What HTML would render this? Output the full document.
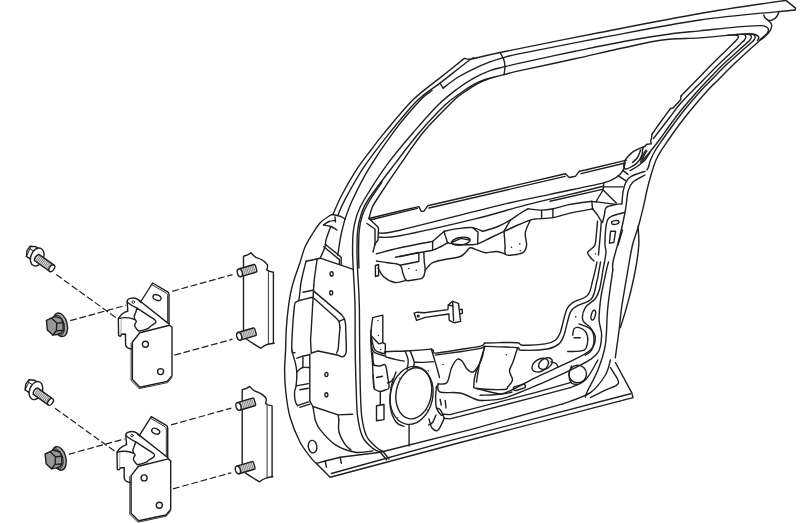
<!DOCTYPE html>
<html><head><meta charset="utf-8"><title>Door hinge diagram</title>
<style>
html,body{margin:0;padding:0;background:#fff;}
body{width:800px;height:523px;overflow:hidden;font-family:"Liberation Sans",sans-serif;}
svg{display:block;}
</style></head><body>
<svg width="800" height="523" viewBox="0 0 800 523">
<rect width="800" height="523" fill="#fff"/>
<g fill="none" stroke="#1f1f1f" stroke-width="1.4" stroke-linecap="round" stroke-linejoin="round">
<g transform="translate(0.0,0.0)">
<path d="M26.4,256.3 L27,250.6 L30.2,246.2 L35.6,246.6 L38.6,248.6 L34.4,251.2 L30.2,258.9 Z" fill="#fff"/>
<path d="M30.2,246.2 L30,248.9 L34.4,251.2 M30,248.9 L26.4,256.3" stroke-width="1"/>
<ellipse cx="37.2" cy="257" rx="6.3" ry="9.4" transform="rotate(22 37.2 257)" fill="#fff"/>
<g transform="translate(36.6,257.4) rotate(35.5)">
      <path d="M0,-3.8 L18.6,-3.8 L18.6,3.8 L0,3.8 Q-2.4,0 0,-3.8Z" fill="#e4e4e4" stroke="none"/>
      <path d="M1.4,-3.8V3.8 M3.1,-3.8V3.8 M4.8,-3.8V3.8 M6.5,-3.8V3.8 M8.2,-3.8V3.8 M9.9,-3.8V3.8 M11.6,-3.8V3.8 M13.3,-3.8V3.8 M15,-3.8V3.8 M16.5,-3.8V3.8" stroke="#6d6d6d" stroke-width="0.8"/>
      <path d="M18.6,-3.8 L0,-3.8 Q-2.4,0 0,3.8 L18.6,3.8"/>
      <ellipse cx="18.7" cy="0" rx="2.3" ry="3.8" fill="#fff"/>
    </g>
<ellipse cx="60.3" cy="324.8" rx="6.9" ry="12" transform="rotate(-14 60.3 324.8)" fill="#a9a9a9"/>
<ellipse cx="58.6" cy="325.2" rx="5.6" ry="10.2" transform="rotate(-14 58.6 325.2)" fill="#9c9c9c" stroke-width="0.9"/>
<path d="M46.4,320.4 L51.4,318.1 L54.4,316.4 L61.1,318.4 L63.1,322.7 L63.1,330.4 L61.1,333.1 L57.1,334.5 L52.7,335.1 L47.4,330.1 Z" fill="#979797"/>
<path d="M51.4,318.1 L56.8,323.1 L56.4,330.8 L52.7,335.1 M56.8,323.1 L63.1,322.7 M56.4,330.8 L63.1,330.4"/>
<path d="M56.3,274.6 L117.3,318.6" stroke-dasharray="6.8 2.7" stroke-width="1.2" stroke-linecap="butt"/>
<path d="M70.2,320.7 L125.8,305.3 M141.5,300.9 L152.6,297.9" stroke-dasharray="6.8 2.7" stroke-width="1.2" stroke-linecap="butt"/>
<path d="M172.3,291.3 L232.5,274.6" stroke-dasharray="6.8 2.7" stroke-width="1.2" stroke-linecap="butt"/>
<path d="M174.3,355.2 L232.5,339.2" stroke-dasharray="6.8 2.7" stroke-width="1.2" stroke-linecap="butt"/>
<path d="M141.2,301 L152.6,283 L167.6,291.8 Q169,292.6 169,294.5 L169,323.6" fill="#fff"/>
<path d="M151.6,284.5 L166.6,293.3 Q167.6,294 167.6,295.3 L167.6,322.4" stroke-width="0.9"/>
<ellipse cx="157" cy="297.6" rx="4.2" ry="2.6" transform="rotate(24 157 297.6)" fill="#fff"/>
<path d="M138.3,299.8 L168.9,323.9"/>
<path d="M127.2,302.2 C126.8,300 128,298.9 130.2,298.4 C133.2,297.6 136.6,298.2 138.6,300 L141,302.5" fill="none"/>
<path d="M127.2,302.2 C129.5,304 133,306.4 137,308.2"/>
<circle cx="133.3" cy="302" r="1.3" stroke-width="0.9"/>
<path d="M137,308.2 L154.7,319.7 C156.2,321.2 156,322.6 155.3,323.1 C153.6,324.6 151.8,325.6 150.1,326.5 C149.4,327.2 148.9,327.8 148.4,328.3 C145.4,329.6 142,330.6 138.7,331.1 C136.8,329.6 135.4,327.8 134.7,326 C134.6,324.2 135.4,322.8 136.4,321.4 C135.2,320 134.2,318.6 134.1,316.8 C134.4,315 135.2,313.6 135.8,312.2 C136,310.8 136.5,309.5 137,308.2 Z"/>
<path d="M127.2,302.2 L127.8,311 C126.6,311.6 125.8,311.9 124.9,312.2 C122.4,313.4 120,315.6 118.3,318.5 L118.6,335.7 L120.3,336.3 L122,334 L125.5,334.2"/>
<path d="M118.6,318.7 C122.5,317.2 129.5,317 134.5,319.6"/>
<path d="M121.2,319.4 L120.9,334.6" stroke="#888" stroke-width="0.7"/>
<path d="M125.5,334.2 L125.5,344.3 C125.9,347 128.6,348.8 132.2,348.9"/>
<path d="M139.8,332.7 L169.6,325.3 L172,327.3 L172,375.8 L167.2,381.4 L139.9,387.2 L132.4,379.6 L132.4,342 Z" fill="#fff"/>
<path d="M169,323.6 L169.6,325.3 M131.1,343 L131.1,380.6 L139.2,388.6 L167.6,382.6 L172,377.3" stroke-width="0.9"/>
<circle cx="145.4" cy="344.3" r="3"/>
<circle cx="160.6" cy="371.6" r="3"/>
<path d="M243.5,337 L243.5,256.2 C246,255.6 249,254.4 251,252.8 C252.5,254.6 254,256.2 256,257.4 C260,258.8 265.6,261.6 267.4,264.8 C267.8,266.8 267.4,268.4 266.7,269.9 C268.8,271.2 271,271.9 273.4,272.3 L273.4,343.2"/>
<path d="M268.4,270.6 L268.4,343.8" stroke-width="0.9"/>
<path d="M243.5,337 C249,341 255,345 260.9,348.2 C263,346.4 265,345.2 267.2,344.5 C269.6,343.8 272,343.4 274.1,343.2"/>
<g transform="translate(239.8,272.8) rotate(-16.5)">
          <rect x="0" y="-4" width="16.5" height="8" rx="1" fill="#e6e6e6" stroke="none"/>
          <path d="M3,-4V4 M4.7,-4V4 M6.4,-4V4 M8.1,-4V4 M9.8,-4V4 M11.5,-4V4 M13.2,-4V4 M14.9,-4V4" stroke="#777" stroke-width="0.8"/>
          <path d="M0,-4 L15.8,-4 Q17,-4 17,-2.5 L17,2.5 Q17,4 15.8,4 L0,4"/>
          <ellipse cx="0" cy="0" rx="2.4" ry="4" fill="#fff"/>
        </g>
<g transform="translate(239.2,336.3) rotate(-16.5)">
          <rect x="0" y="-4" width="16.5" height="8" rx="1" fill="#e6e6e6" stroke="none"/>
          <path d="M3,-4V4 M4.7,-4V4 M6.4,-4V4 M8.1,-4V4 M9.8,-4V4 M11.5,-4V4 M13.2,-4V4 M14.9,-4V4" stroke="#777" stroke-width="0.8"/>
          <path d="M0,-4 L15.8,-4 Q17,-4 17,-2.5 L17,2.5 Q17,4 15.8,4 L0,4"/>
          <ellipse cx="0" cy="0" rx="2.4" ry="4" fill="#fff"/>
        </g>
</g>
<g transform="translate(-1.3,133.6)">
<path d="M26.4,256.3 L27,250.6 L30.2,246.2 L35.6,246.6 L38.6,248.6 L34.4,251.2 L30.2,258.9 Z" fill="#fff"/>
<path d="M30.2,246.2 L30,248.9 L34.4,251.2 M30,248.9 L26.4,256.3" stroke-width="1"/>
<ellipse cx="37.2" cy="257" rx="6.3" ry="9.4" transform="rotate(22 37.2 257)" fill="#fff"/>
<g transform="translate(36.6,257.4) rotate(35.5)">
      <path d="M0,-3.8 L18.6,-3.8 L18.6,3.8 L0,3.8 Q-2.4,0 0,-3.8Z" fill="#e4e4e4" stroke="none"/>
      <path d="M1.4,-3.8V3.8 M3.1,-3.8V3.8 M4.8,-3.8V3.8 M6.5,-3.8V3.8 M8.2,-3.8V3.8 M9.9,-3.8V3.8 M11.6,-3.8V3.8 M13.3,-3.8V3.8 M15,-3.8V3.8 M16.5,-3.8V3.8" stroke="#6d6d6d" stroke-width="0.8"/>
      <path d="M18.6,-3.8 L0,-3.8 Q-2.4,0 0,3.8 L18.6,3.8"/>
      <ellipse cx="18.7" cy="0" rx="2.3" ry="3.8" fill="#fff"/>
    </g>
<ellipse cx="60.3" cy="324.8" rx="6.9" ry="12" transform="rotate(-14 60.3 324.8)" fill="#a9a9a9"/>
<ellipse cx="58.6" cy="325.2" rx="5.6" ry="10.2" transform="rotate(-14 58.6 325.2)" fill="#9c9c9c" stroke-width="0.9"/>
<path d="M46.4,320.4 L51.4,318.1 L54.4,316.4 L61.1,318.4 L63.1,322.7 L63.1,330.4 L61.1,333.1 L57.1,334.5 L52.7,335.1 L47.4,330.1 Z" fill="#979797"/>
<path d="M51.4,318.1 L56.8,323.1 L56.4,330.8 L52.7,335.1 M56.8,323.1 L63.1,322.7 M56.4,330.8 L63.1,330.4"/>
<path d="M56.3,274.6 L117.3,318.6" stroke-dasharray="6.8 2.7" stroke-width="1.2" stroke-linecap="butt"/>
<path d="M70.2,320.7 L125.8,305.3 M141.5,300.9 L152.6,297.9" stroke-dasharray="6.8 2.7" stroke-width="1.2" stroke-linecap="butt"/>
<path d="M172.3,291.3 L232.5,274.6" stroke-dasharray="6.8 2.7" stroke-width="1.2" stroke-linecap="butt"/>
<path d="M174.3,355.2 L232.5,339.2" stroke-dasharray="6.8 2.7" stroke-width="1.2" stroke-linecap="butt"/>
<path d="M141.2,301 L152.6,283 L167.6,291.8 Q169,292.6 169,294.5 L169,323.6" fill="#fff"/>
<path d="M151.6,284.5 L166.6,293.3 Q167.6,294 167.6,295.3 L167.6,322.4" stroke-width="0.9"/>
<ellipse cx="157" cy="297.6" rx="4.2" ry="2.6" transform="rotate(24 157 297.6)" fill="#fff"/>
<path d="M138.3,299.8 L168.9,323.9"/>
<path d="M127.2,302.2 C126.8,300 128,298.9 130.2,298.4 C133.2,297.6 136.6,298.2 138.6,300 L141,302.5" fill="none"/>
<path d="M127.2,302.2 C129.5,304 133,306.4 137,308.2"/>
<circle cx="133.3" cy="302" r="1.3" stroke-width="0.9"/>
<path d="M137,308.2 L154.7,319.7 C156.2,321.2 156,322.6 155.3,323.1 C153.6,324.6 151.8,325.6 150.1,326.5 C149.4,327.2 148.9,327.8 148.4,328.3 C145.4,329.6 142,330.6 138.7,331.1 C136.8,329.6 135.4,327.8 134.7,326 C134.6,324.2 135.4,322.8 136.4,321.4 C135.2,320 134.2,318.6 134.1,316.8 C134.4,315 135.2,313.6 135.8,312.2 C136,310.8 136.5,309.5 137,308.2 Z"/>
<path d="M127.2,302.2 L127.8,311 C126.6,311.6 125.8,311.9 124.9,312.2 C122.4,313.4 120,315.6 118.3,318.5 L118.6,335.7 L120.3,336.3 L122,334 L125.5,334.2"/>
<path d="M118.6,318.7 C122.5,317.2 129.5,317 134.5,319.6"/>
<path d="M121.2,319.4 L120.9,334.6" stroke="#888" stroke-width="0.7"/>
<path d="M125.5,334.2 L125.5,344.3 C125.9,347 128.6,348.8 132.2,348.9"/>
<path d="M139.8,332.7 L169.6,325.3 L172,327.3 L172,375.8 L167.2,381.4 L139.9,387.2 L132.4,379.6 L132.4,342 Z" fill="#fff"/>
<path d="M169,323.6 L169.6,325.3 M131.1,343 L131.1,380.6 L139.2,388.6 L167.6,382.6 L172,377.3" stroke-width="0.9"/>
<circle cx="145.4" cy="344.3" r="3"/>
<circle cx="160.6" cy="371.6" r="3"/>
<path d="M243.5,337 L243.5,256.2 C246,255.6 249,254.4 251,252.8 C252.5,254.6 254,256.2 256,257.4 C260,258.8 265.6,261.6 267.4,264.8 C267.8,266.8 267.4,268.4 266.7,269.9 C268.8,271.2 271,271.9 273.4,272.3 L273.4,343.2"/>
<path d="M268.4,270.6 L268.4,343.8" stroke-width="0.9"/>
<path d="M243.5,337 C249,341 255,345 260.9,348.2 C263,346.4 265,345.2 267.2,344.5 C269.6,343.8 272,343.4 274.1,343.2"/>
<g transform="translate(239.8,272.8) rotate(-16.5)">
          <rect x="0" y="-4" width="16.5" height="8" rx="1" fill="#e6e6e6" stroke="none"/>
          <path d="M3,-4V4 M4.7,-4V4 M6.4,-4V4 M8.1,-4V4 M9.8,-4V4 M11.5,-4V4 M13.2,-4V4 M14.9,-4V4" stroke="#777" stroke-width="0.8"/>
          <path d="M0,-4 L15.8,-4 Q17,-4 17,-2.5 L17,2.5 Q17,4 15.8,4 L0,4"/>
          <ellipse cx="0" cy="0" rx="2.4" ry="4" fill="#fff"/>
        </g>
<g transform="translate(239.2,336.3) rotate(-16.5)">
          <rect x="0" y="-4" width="16.5" height="8" rx="1" fill="#e6e6e6" stroke="none"/>
          <path d="M3,-4V4 M4.7,-4V4 M6.4,-4V4 M8.1,-4V4 M9.8,-4V4 M11.5,-4V4 M13.2,-4V4 M14.9,-4V4" stroke="#777" stroke-width="0.8"/>
          <path d="M0,-4 L15.8,-4 Q17,-4 17,-2.5 L17,2.5 Q17,4 15.8,4 L0,4"/>
          <ellipse cx="0" cy="0" rx="2.4" ry="4" fill="#fff"/>
        </g>
</g>
<path d="M333.0,214.5 C334.5,211.2 337.7,202.8 341.8,195.0 C345.9,187.2 352.9,175.2 357.8,167.7 C362.7,160.2 366.6,155.8 371.0,150.0 C375.4,144.2 377.5,140.9 384.5,132.6 C391.5,124.3 403.6,109.1 412.8,100.0 C422.1,90.9 431.4,84.8 440.0,77.9 C448.6,71.0 460.3,61.6 464.4,58.4"/>
<path d="M464.4,58.4 C465.2,58.5 467.4,59.2 469.0,59.2 C470.6,59.2 468.6,59.7 473.8,58.6 C479.0,57.5 479.0,56.9 500.0,52.5 C521.0,48.1 566.7,39.0 600.0,32.5 C633.3,26.0 669.3,18.8 700.0,13.5 C730.7,8.2 770.0,2.8 784.0,0.6"/>
<path d="M338.0,215.0 C339.1,212.6 340.4,208.2 344.6,200.3 C348.9,192.4 356.0,179.0 363.5,167.7 C371.0,156.4 380.8,143.9 389.8,132.6 C398.9,121.3 409.4,108.2 417.8,100.0 C426.2,91.8 431.3,89.8 440.0,83.1 C448.7,76.4 464.4,63.9 470.0,59.8 C475.6,55.7 473.2,58.8 473.8,58.6"/>
<path d="M345.0,219.0 C346.2,215.9 348.4,208.7 352.3,200.3 C356.2,192.0 361.8,180.4 368.7,168.9 C375.6,157.4 385.4,142.8 394.0,131.3 C402.6,119.8 414.1,106.8 420.4,100.0 C426.7,93.2 430.1,92.1 432.0,90.5"/>
<path d="M440.0,83.1 L443.1,88.1"/>
<path d="M443.1,88.1 C445.5,86.3 452.4,80.7 457.5,77.5 C462.6,74.3 468.4,71.4 473.8,68.8 C479.2,66.2 485.2,63.7 490.0,61.9 C494.8,60.1 497.5,59.3 502.5,57.9 C507.5,56.5 503.8,56.9 520.0,53.6 C536.2,50.3 570.0,43.6 600.0,38.0 C630.0,32.4 667.5,24.7 700.0,20.0 C732.5,15.3 779.2,11.7 795.0,10.0"/>
<path d="M380.3,452.2 C379.1,451.6 375.7,450.9 372.8,448.4 C369.9,445.9 365.2,442.3 362.7,437.1 C360.2,431.9 358.8,424.6 357.7,417.1 C356.6,409.6 356.7,403.2 356.3,392.0 C355.9,380.8 355.4,364.5 355.2,350.0 C355.0,335.5 355.3,318.3 355.0,305.0 C354.7,291.7 353.7,278.8 353.3,270.0 C352.9,261.2 352.6,258.3 352.6,252.0 C352.6,245.7 352.5,238.1 353.2,232.0 C353.9,225.9 355.0,220.8 356.8,215.5 C358.6,210.2 358.7,208.8 364.0,200.0 C369.3,191.2 379.9,174.3 388.5,162.7 C397.1,151.0 407.0,139.7 415.3,130.1 C423.6,120.5 431.1,111.9 438.1,105.0 C445.1,98.1 451.6,93.3 457.5,88.8 C463.4,84.3 468.4,81.1 473.8,78.1 C479.2,75.1 485.0,72.5 490.0,70.6 C495.0,68.7 498.8,68.2 503.8,66.9 C508.8,65.7 508.1,65.7 520.0,63.1 C531.9,60.5 557.5,54.9 575.0,51.3 C592.5,47.7 608.3,44.3 625.0,41.3 C641.7,38.3 662.5,35.0 675.0,33.3 C687.5,31.6 689.6,32.0 700.0,30.9 C710.4,29.8 727.5,27.8 737.5,26.9 C747.5,26.0 755.4,25.7 760.0,25.6 C764.6,25.5 763.6,25.8 765.0,26.3 C766.4,26.8 767.6,27.6 768.1,28.5 C768.6,29.4 768.6,30.3 768.1,31.5 C767.6,32.7 766.4,34.3 765.0,35.6 C763.6,36.9 760.8,38.8 760.0,39.4"/>
<path d="M383.0,451.5 C381.8,450.8 378.8,449.6 376.0,447.0 C373.2,444.4 368.9,441.0 366.5,436.0 C364.1,431.0 362.8,424.4 361.8,417.1 C360.8,409.8 360.8,403.2 360.4,392.0 C360.0,380.8 359.9,364.5 359.7,350.0 C359.5,335.5 359.6,318.3 359.3,305.0 C359.0,291.7 358.0,279.1 357.6,270.3 C357.2,261.5 357.0,258.6 357.0,252.0 C357.0,245.4 356.9,237.2 357.6,231.0 C358.3,224.8 359.3,220.2 361.0,215.0 C362.7,209.8 362.4,208.5 368.0,200.0 C373.6,191.5 386.1,175.3 394.8,163.9 C403.5,152.5 412.0,141.1 420.4,131.3 C428.8,121.5 438.2,111.5 445.0,105.0 C451.8,98.5 456.5,95.9 461.3,92.5 C466.1,89.1 469.9,86.6 473.8,84.4 C477.8,82.2 481.5,80.7 485.0,79.4 C488.5,78.2 491.7,77.7 495.0,76.9 C498.3,76.1 500.8,75.5 505.0,74.4 C509.2,73.4 508.3,73.2 520.0,70.6 C531.7,68.0 557.5,62.6 575.0,58.8 C592.5,54.9 610.4,50.6 625.0,47.5 C639.6,44.4 650.0,41.6 662.5,40.0 C675.0,38.4 687.5,38.8 700.0,37.9 C712.5,37.0 728.8,35.0 737.5,34.4 C746.2,33.8 749.2,33.8 752.5,34.0 C755.8,34.2 756.5,35.0 757.5,35.6 C758.5,36.2 758.8,37.0 758.8,37.8 C758.8,38.6 757.7,40.1 757.5,40.6"/>
<path d="M369.0,218.5 C369.1,218.1 369.1,217.8 369.6,216.0 C370.1,214.2 370.9,210.7 372.0,208.0 C373.1,205.3 371.9,207.1 376.5,200.0 C381.1,192.9 391.9,176.6 399.8,165.2 C407.7,153.8 415.0,142.2 424.1,131.3 C433.2,120.4 447.6,106.5 454.2,100.0 C460.8,93.5 460.1,95.1 463.8,92.5 C467.5,89.9 472.6,86.5 476.3,84.4 C480.1,82.3 483.4,81.0 486.3,79.8 C489.2,78.6 492.7,77.6 494.0,77.2"/>
<path d="M382.0,182.0 C380.0,185.0 373.2,194.5 370.0,200.0 C366.8,205.5 364.3,209.8 362.5,215.0 C360.7,220.2 359.8,224.8 359.2,231.0 C358.6,237.2 358.6,245.8 358.6,252.0 C358.6,258.2 358.9,265.3 359.0,268.0"/>
<path d="M500.0,52.5 C500.6,53.6 502.8,56.7 503.6,59.0 C504.4,61.3 504.9,63.7 505.0,66.3 C505.1,68.9 504.2,73.4 504.0,74.8"/>
<path d="M784.0,0.6 L786.2,0.6 L795.6,8.1 L795.0,10.0"/>
<path d="M763.8,15.0 C764.0,15.5 764.2,16.9 765.0,17.8 C765.8,18.7 767.9,20.1 768.5,20.6"/>
<path d="M778.8,12.6 C778.4,13.3 777.5,15.8 776.5,17.0 C775.5,18.2 773.8,19.2 772.5,19.8 C771.2,20.4 769.2,20.5 768.5,20.6"/>
<path d="M768.5,20.6 C769.0,21.1 770.8,22.6 771.3,23.8 C771.8,25.1 771.7,26.7 771.3,28.1 C770.9,29.6 770.3,30.7 768.8,32.5 C767.3,34.3 764.1,37.4 762.5,38.8 C760.9,40.2 761.4,39.1 759.2,41.0 C757.0,42.9 753.6,46.0 749.2,50.0 C744.8,54.0 738.2,60.0 733.0,65.0 C727.8,70.0 722.2,75.8 718.0,80.0 C713.8,84.2 712.3,85.2 708.0,90.0 C703.7,94.8 696.8,102.7 692.0,108.5 C687.2,114.3 682.8,119.9 679.0,125.0 C675.2,130.1 671.9,134.8 669.0,139.0 C666.1,143.2 663.7,146.5 661.5,150.0 C659.3,153.5 657.8,155.8 656.0,160.0 C654.2,164.2 652.5,170.0 651.0,175.0 C649.5,180.0 648.2,185.0 647.0,190.0 C645.8,195.0 645.3,198.8 643.8,205.0 C642.3,211.2 640.0,220.8 638.1,227.5 C636.2,234.2 634.2,237.9 632.5,245.0 C630.8,252.1 629.7,259.6 627.9,270.0 C626.1,280.4 623.1,297.6 621.6,307.6 C620.1,317.6 620.2,321.9 619.1,330.2 C618.0,338.5 615.9,353.1 615.3,357.7"/>
<path d="M638.1,226.3 C638.2,229.4 639.2,237.7 638.8,245.0 C638.3,252.3 637.2,260.4 635.4,270.0 C633.6,279.6 630.4,293.0 627.9,302.6 C625.4,312.2 621.6,323.4 620.4,327.6"/>
<path d="M747.0,34.2 C747.9,34.2 751.2,33.9 752.5,34.2 C753.8,34.5 754.8,35.0 755.0,36.0 C755.2,37.0 756.0,37.7 754.0,40.0 C752.0,42.3 747.5,45.8 742.8,50.0 C738.1,54.2 731.2,60.0 726.0,65.0 C720.8,70.0 715.4,75.8 711.3,80.0 C707.2,84.2 705.7,85.3 701.5,90.0 C697.3,94.7 690.8,102.2 686.0,108.0 C681.2,113.8 676.8,119.8 673.0,125.0 C669.2,130.2 665.9,134.8 663.0,139.0 C660.1,143.2 657.6,146.5 655.5,150.0 C653.4,153.5 651.7,157.2 650.5,160.0 C649.3,162.8 649.1,165.3 648.5,167.0 C647.9,168.7 647.2,169.5 647.0,170.0"/>
<path d="M741.0,34.4 C742.2,34.4 746.8,33.9 748.5,34.2 C750.2,34.5 751.0,35.0 751.2,36.0 C751.5,37.0 752.0,37.7 750.0,40.0 C748.0,42.3 743.6,45.8 739.0,50.0 C734.4,54.2 727.7,60.0 722.5,65.0 C717.3,70.0 712.0,75.8 708.0,80.0 C704.0,84.2 702.8,85.3 698.6,90.0 C694.4,94.7 687.8,102.2 683.0,108.0 C678.2,113.8 673.8,119.8 670.0,125.0 C666.2,130.2 663.1,134.8 660.0,139.0 C656.9,143.2 654.2,146.7 651.5,150.0 C648.8,153.3 645.8,157.0 644.0,159.0 C642.2,161.0 641.1,161.5 640.5,162.0"/>
<path d="M735.0,34.6 C736.3,34.6 741.2,34.2 743.0,34.4 C744.8,34.6 745.4,35.1 745.6,36.0 C745.9,36.9 746.5,37.7 744.5,40.0 C742.5,42.3 738.3,45.8 733.9,50.0 C729.5,54.2 723.1,60.0 718.0,65.0 C712.9,70.0 707.4,75.8 703.3,80.0 C699.2,84.2 697.2,86.0 693.3,90.0 C689.4,94.0 683.9,99.5 680.0,104.0 C676.1,108.5 673.3,112.7 670.0,117.0 C666.7,121.3 662.8,126.4 660.0,130.0 C657.2,133.6 654.6,137.1 653.5,138.5"/>
<path d="M646.0,150.0 C645.7,150.5 644.7,151.8 644.0,153.0 C643.3,154.2 642.6,155.8 642.0,157.0 C641.4,158.2 640.8,159.5 640.5,160.0"/>
<path d="M728.0,35.2 C729.2,35.2 733.8,34.8 735.5,35.0 C737.2,35.2 738.3,35.7 738.5,36.5 C738.7,37.3 738.5,37.8 736.5,40.0 C734.5,42.2 730.7,45.8 726.5,50.0 C722.3,54.2 716.2,60.0 711.2,65.0 C706.2,70.0 700.7,75.8 696.6,80.0 C692.5,84.2 689.4,87.3 686.8,90.0 C684.2,92.7 682.0,95.0 681.0,96.0"/>
<path d="M681.0,96.0 L680.5,100.0 L673.0,108.0 L670.5,108.5"/>
<path d="M670.5,108.5 C669.1,110.4 665.1,115.8 662.0,120.0 C658.9,124.2 653.7,131.7 652.0,134.0"/>
<path d="M652.0,134.0 L651.5,138.5 L650.6,140.6 L651.3,143.8 L646.3,144.4 L645.0,146.3"/>
<path d="M645.0,146.3 C644.0,146.7 641.1,147.7 638.8,148.8 C636.5,149.9 633.5,151.3 631.3,153.1 C629.1,154.9 626.5,158.3 625.6,159.4"/>
<path d="M625.6,159.4 C625.3,160.3 623.9,163.4 623.8,165.0 C623.7,166.6 624.0,168.4 625.0,168.8 C626.0,169.2 627.9,168.6 630.0,167.5 C632.1,166.4 635.5,164.6 637.5,162.5 C639.5,160.4 641.1,157.1 641.9,155.0 C642.7,152.9 642.2,151.3 642.5,150.0 C642.8,148.7 643.3,147.5 643.5,147.0"/>
<path d="M632.5,162.5 C633.3,161.7 636.1,159.6 637.5,157.5 C638.9,155.4 640.1,151.2 640.6,150.0"/>
<path d="M630.0,170.6 C631.2,169.9 635.0,168.1 637.5,166.3 C640.0,164.5 642.9,162.3 645.0,160.0 C647.1,157.7 649.2,153.8 650.0,152.5"/>
<path d="M641.9,160.0 C642.4,159.0 644.1,155.3 645.0,153.8 C645.9,152.3 646.7,151.5 647.0,151.0"/>
<path d="M645.0,171.3 C642.7,172.1 634.4,174.6 631.3,176.3 C628.2,178.0 627.7,178.8 626.3,181.3 C624.9,183.8 623.8,187.6 623.1,191.3 C622.4,195.1 622.1,201.7 621.9,203.8"/>
<path d="M645.0,175.0 C642.9,176.2 635.3,179.8 632.5,182.5 C629.7,185.2 629.1,187.8 628.1,191.3 C627.1,194.9 626.8,200.3 626.3,203.8 C625.8,207.3 625.8,208.1 625.0,212.5 C624.2,216.9 622.5,224.6 621.3,230.0 C620.0,235.4 618.9,239.7 617.5,245.0 C616.1,250.3 613.8,257.8 613.0,262.0 C612.2,266.2 612.8,268.7 612.8,270.0"/>
<path d="M623.1,170.6 L628.1,174.4"/>
<path d="M618.1,175.6 L625.6,180.6"/>
<path d="M333.0,214.5 C332.5,214.7 332.2,214.1 330.0,215.5 C327.8,216.9 322.8,220.1 320.0,223.0 C317.2,225.9 315.5,229.0 313.0,233.0 C310.5,237.0 307.1,242.1 305.0,247.0 C302.9,251.9 302.2,255.9 300.1,262.2 C298.0,268.5 294.4,278.1 292.5,285.0 C290.6,291.9 289.8,296.5 288.8,303.8 C287.8,311.1 286.8,321.1 286.3,328.8 C285.8,336.5 285.9,343.1 285.6,350.0 C285.3,356.9 284.6,363.0 284.6,370.0 C284.6,377.0 284.9,384.2 285.8,392.0 C286.7,399.8 287.6,408.7 290.0,417.0 C292.4,425.3 296.4,435.1 300.0,442.0 C303.6,448.9 308.7,454.8 311.4,458.4 C314.1,462.0 315.6,462.6 316.4,463.4"/>
<path d="M316.4,463.4 L330.2,477.2 L450.0,445.2 L633.0,397.6 L631.7,392.6 L615.4,362.5"/>
<path d="M331.4,473.5 L450.0,440.7 L630.5,393.8"/>
<path d="M333.0,214.5 L341.0,216.5 L345.0,219.0"/>
<path d="M335.0,217.0 L335.5,222.0"/>
<path d="M335.5,220.5 C334.4,220.7 331.0,220.8 329.0,221.5 C327.0,222.2 324.4,224.4 323.5,225.0"/>
<path d="M323.5,225.0 C324.8,225.2 328.8,225.7 331.0,226.5 C333.2,227.3 336.0,229.4 337.0,230.0"/>
<path d="M330.5,227.0 C329.8,229.2 326.9,236.7 326.0,240.0 C325.1,243.3 326.0,244.0 325.0,247.0 C324.0,250.0 321.0,256.3 320.2,258.2"/>
<path d="M345.0,219.0 C344.3,221.7 342.0,230.3 341.0,235.0 C340.0,239.7 339.5,243.7 339.0,247.0 C338.5,250.3 338.0,253.7 337.8,255.0"/>
<path d="M306.1,261.2 L320.2,258.2 L353.3,269.3"/>
<path d="M306.1,261.2 C305.5,263.5 303.5,271.0 302.6,275.0 C301.7,279.0 300.9,283.3 300.6,285.0"/>
<path d="M317.1,259.2 C316.7,262.2 315.2,272.7 314.6,277.0 C314.1,281.3 313.9,283.7 313.8,285.0"/>
<path d="M325.2,244.2 L341.2,257.2 L341.2,264.5"/>
<path d="M323.8,246.8 L339.4,259.6 L339.4,264.0"/>
<ellipse cx="331.6" cy="273.9" rx="1.5" ry="2.1"/>
<ellipse cx="331.2" cy="292.8" rx="1.5" ry="2.1"/>
<ellipse cx="326.4" cy="374.5" rx="1.5" ry="2.1"/>
<ellipse cx="326.4" cy="394.8" rx="1.5" ry="2.1"/>
<path d="M300.6,285.0 C300.5,286.3 300.1,290.4 299.8,293.0 C299.5,295.6 299.0,299.3 298.8,300.6"/>
<path d="M298.8,300.6 C298.3,300.9 296.3,301.6 295.6,302.5 C294.9,303.4 294.9,301.9 294.4,306.3 C293.9,310.7 292.9,321.5 292.5,328.8 C292.1,336.1 291.5,346.0 291.9,350.0 C292.3,354.0 294.5,352.2 295.0,352.7"/>
<path d="M298.8,300.6 L312.5,297.3"/>
<path d="M303.1,292.3 L312.5,290.3"/>
<path d="M313.8,285.0 C313.7,287.1 313.5,290.2 313.1,297.5 C312.7,304.8 311.7,321.7 311.3,328.8 C310.9,335.9 310.6,336.0 310.6,340.0 C310.6,344.0 311.2,350.8 311.3,353.0"/>
<path d="M313.1,290.6 L341.3,314.4"/>
<path d="M341.3,314.4 C341.8,315.1 343.7,317.0 344.4,318.8 C345.1,320.6 345.4,324.0 345.6,325.0"/>
<path d="M345.6,325.0 L346.4,350.0"/>
<path d="M346.4,350.0 C346.3,350.6 346.3,352.7 345.7,353.8 C345.1,354.9 344.0,356.6 342.7,356.8 C341.4,357.1 338.9,355.6 338.1,355.3"/>
<path d="M338.1,355.3 L318.2,351.0 L311.3,353.0"/>
<path d="M313.1,297.5 L335.0,316.9"/>
<path d="M335.0,316.9 C335.6,317.6 338.0,319.5 338.8,321.3 C339.6,323.1 339.8,326.5 340.0,327.5"/>
<path d="M340.0,327.5 C339.8,329.6 339.2,336.4 338.9,340.0 C338.6,343.6 338.5,347.0 338.1,349.2 C337.7,351.4 336.9,352.4 336.6,353.0"/>
<path d="M338.8,321.3 L344.4,319.2"/>
<path d="M291.9,350.0 C291.9,350.4 291.6,350.1 292.2,352.2 C292.8,354.3 294.5,359.6 295.3,362.9 C296.1,366.2 296.7,368.3 296.8,372.1 C296.9,375.9 296.5,382.6 296.1,385.9 C295.7,389.2 294.6,389.4 294.5,392.0 C294.4,394.6 294.8,398.9 295.3,401.2 C295.8,403.5 297.2,404.9 297.6,405.7"/>
<path d="M296.8,358.3 C297.8,357.9 300.7,356.7 302.9,356.1 C305.1,355.5 308.6,354.8 309.8,354.5"/>
<path d="M302.9,356.1 L302.9,367.5"/>
<path d="M296.8,372.1 C297.3,371.6 299.0,369.8 300.0,369.0 C301.0,368.2 301.3,367.8 302.9,367.5 C304.5,367.2 308.6,367.5 309.8,367.5"/>
<path d="M309.8,354.5 L309.8,401.2"/>
<path d="M296.1,385.9 L308.3,383.6"/>
<path d="M299.9,389.7 L308.3,388.2"/>
<path d="M297.6,405.7 L308.3,401.9"/>
<path d="M299.9,407.3 L309.8,404.2"/>
<path d="M309.8,401.2 L312.9,406.5 L338.1,414.9 L352.6,414.2"/>
<path d="M312.9,406.5 L315.2,420.0"/>
<path d="M338.1,414.9 L338.9,420.0"/>
<path d="M315.2,420.0 C316.0,421.6 316.8,425.5 320.1,429.6 C323.4,433.7 329.4,440.8 335.2,444.6 C341.0,448.4 348.9,451.1 355.2,452.2 C361.5,453.2 369.9,451.1 372.8,450.9"/>
<path d="M338.9,420.0 C338.9,422.0 337.9,427.9 339.0,432.0 C340.1,436.1 343.2,441.6 345.2,444.6 C347.2,447.6 350.0,449.1 351.0,450.0"/>
<ellipse cx="312.6" cy="446.6" rx="4.3" ry="6.3" transform="rotate(-8 312.6 446.6)"/>
<path d="M316.4,463.4 L325.2,461.0 L326.4,467.2"/>
<path d="M340.2,457.2 L341.4,463.4"/>
<path d="M325.2,461.0 L340.2,457.2 L380.3,452.2 L470.5,429.6 L562.8,403.9"/>
<path d="M380.3,452.2 L386.5,459.7"/>
<path d="M383.0,451.5 L389.0,459.0"/>
<path d="M562.8,403.9 C567.4,402.0 583.3,397.4 590.4,392.6 C597.5,387.8 602.1,380.4 605.4,375.0 C608.7,369.6 609.6,362.5 610.4,360.0"/>
<path d="M443.3,414.3 L450.0,414.6 L535.2,392.6 L570.3,382.6"/>
<path d="M444.3,418.4 L450.0,418.9 L532.7,397.6 L570.3,387.6"/>
<path d="M570.3,387.6 C572.8,386.4 580.7,384.7 585.3,380.1 C589.9,375.5 595.8,363.4 597.9,360.0"/>
<path d="M590.4,397.6 C592.9,396.4 601.0,392.2 605.4,390.1 C609.8,388.0 614.6,386.8 616.7,385.1 C618.8,383.4 619.0,383.0 617.9,380.1 C616.8,377.2 611.6,369.6 610.4,367.5"/>
<path d="M369.0,218.5 L400.0,211.0 L418.8,206.6 L421.3,211.4 L423.8,211.4 L427.6,205.8 L565.4,173.8 L569.2,177.5 L575.4,176.3 L579.2,171.3 L585.5,170.0 L626.5,160.1"/>
<path d="M371.0,219.7 L400.0,212.6 L417.4,208.4"/>
<path d="M429.0,208.0 L565.0,176.4"/>
<path d="M581.0,173.6 L625.0,163.0"/>
<path d="M378.4,233.1 C382.0,232.6 379.7,234.9 400.0,230.2 C420.3,225.5 475.3,211.1 500.3,205.1 C525.3,199.1 533.0,198.1 550.0,194.4 C567.0,190.7 592.1,185.6 602.5,183.1 C612.9,180.6 609.6,180.8 612.5,179.4 C615.4,178.0 618.1,176.2 620.0,174.4 C621.9,172.6 623.0,170.8 623.8,168.8 C624.6,166.8 624.8,163.6 625.0,162.5"/>
<path d="M378.4,237.1 C382.0,236.9 383.9,238.7 400.0,235.7 C416.1,232.7 454.3,224.0 475.2,218.9 C496.1,213.8 509.5,209.2 525.3,205.1 C541.1,201.0 557.0,197.5 570.0,194.4 C583.0,191.3 597.6,187.7 603.1,186.3"/>
<path d="M550.0,201.3 L602.5,189.4"/>
<path d="M369.0,218.5 L378.0,227.0 L378.5,229.0 L378.0,240.0 L375.0,244.0 L373.0,252.0"/>
<path d="M367.0,223.5 L375.0,229.0 L375.0,245.0"/>
<path d="M376.4,253.8 C380.3,252.8 390.6,249.8 400.0,247.7 C409.4,245.6 427.2,242.4 432.6,241.4"/>
<path d="M432.6,241.4 L443.9,231.4"/>
<path d="M443.9,231.4 C446.2,230.9 453.2,229.2 458.0,228.6 C462.8,228.0 468.6,227.1 472.7,227.6 C476.8,228.1 481.0,230.8 482.7,231.4"/>
<path d="M482.7,231.4 C485.2,230.6 493.4,228.4 498.0,226.5 C502.6,224.6 506.6,222.3 510.3,220.1 C514.0,217.9 517.1,215.4 520.0,213.5 C522.9,211.6 526.5,209.6 527.8,208.8"/>
<path d="M527.8,208.8 C530.1,209.0 537.4,210.1 541.6,210.1 C545.8,210.1 548.2,209.8 552.9,208.8 C557.6,207.9 563.5,205.7 570.0,204.4 C576.5,203.2 588.2,201.8 591.9,201.3"/>
<path d="M400.0,256.5 C403.1,255.9 413.4,253.8 418.8,252.7 C424.2,251.6 429.1,251.1 432.6,250.2 C436.1,249.2 437.5,248.2 440.0,247.0 C442.5,245.8 446.3,243.4 447.6,242.7"/>
<path d="M447.6,242.7 C449.3,243.0 454.2,244.2 458.0,244.5 C461.8,244.8 466.9,244.8 470.2,244.7 C473.5,244.6 474.4,245.0 477.7,243.9 C481.0,242.8 485.6,240.1 490.0,238.0 C494.4,235.9 499.3,233.6 504.0,231.4 C508.7,229.2 513.6,226.9 518.0,225.0 C522.4,223.1 527.2,221.1 530.3,220.1 C533.4,219.1 532.8,219.3 536.6,218.9 C540.4,218.5 547.3,218.6 552.9,217.6 C558.5,216.6 563.3,214.6 570.0,213.1 C576.7,211.6 589.2,209.5 593.1,208.8"/>
<path d="M443.9,231.4 L447.6,242.7"/>
<path d="M432.6,241.4 L432.6,250.2"/>
<path d="M472.7,227.6 L478.0,232.0 L477.7,243.9"/>
<path d="M510.3,220.1 L504.0,231.4"/>
<path d="M541.6,210.1 L541.6,218.3"/>
<path d="M552.9,208.8 L552.9,217.6"/>
<ellipse cx="460.9" cy="241.2" rx="9.4" ry="3.8" transform="rotate(-9 460.9 241.2)"/>
<path d="M452.0,242.4 L461.0,238.4 L469.5,240.0"/>
<path d="M504.0,231.4 C504.2,233.7 504.8,241.2 505.0,245.0 C505.2,248.8 504.4,252.3 505.3,254.0 C506.2,255.7 507.4,255.4 510.3,255.2 C513.2,255.0 520.1,254.4 522.8,252.7 C525.5,251.0 526.2,248.5 526.6,245.2 C527.0,241.9 524.7,236.9 525.3,232.7 C525.9,228.5 529.5,222.2 530.3,220.1"/>
<circle cx="511.5" cy="247.2" r="0.8" fill="#222" stroke="none"/>
<circle cx="519.8" cy="243.9" r="0.8" fill="#222" stroke="none"/>
<circle cx="520.3" cy="250.7" r="0.8" fill="#222" stroke="none"/>
<circle cx="408.8" cy="268.5" r="0.8" fill="#222" stroke="none"/>
<circle cx="416.3" cy="270.3" r="0.8" fill="#222" stroke="none"/>
<path d="M425.1,270.3 C426.4,269.0 429.3,264.5 432.6,262.7 C435.9,260.9 440.4,260.5 445.0,259.5 C449.6,258.5 456.7,257.8 460.2,256.5 C463.7,255.2 464.3,253.5 466.0,252.0 C467.7,250.5 468.2,248.0 470.2,247.7 C472.1,247.4 475.2,249.4 477.7,250.2 C480.2,251.0 482.1,252.5 485.2,252.7 C488.3,252.9 493.1,251.3 496.5,251.5 C499.9,251.7 503.8,253.6 505.3,254.0"/>
<path d="M376.4,261.0 C378.3,261.3 384.1,262.1 388.0,262.8 C391.9,263.5 397.5,263.4 400.0,265.2 C402.5,267.0 401.9,271.0 403.0,273.5 C404.1,276.0 404.5,279.2 406.3,280.3 C408.1,281.4 411.3,280.2 414.0,279.8 C416.7,279.4 420.8,279.4 422.6,277.8 C424.5,276.2 424.8,272.9 425.1,270.3 C425.4,267.7 424.5,264.9 424.3,262.0 C424.1,259.1 423.9,254.2 423.8,252.7"/>
<path d="M418.8,252.7 L418.8,261.5 L400.0,265.2"/>
<path d="M378.0,268.0 C379.0,269.5 381.2,274.6 384.0,277.0 C386.8,279.4 391.3,281.9 395.0,282.5 C398.7,283.1 404.4,280.7 406.3,280.3"/>
<path d="M375.4,265.5 L378.6,264.5 L378.6,275.5 L375.4,276.5Z"/>
<path d="M395.5,257.3 L418.5,252.5"/>
<path d="M603.8,183.1 L603.1,190.0 L596.9,200.0 L596.3,201.9"/>
<path d="M591.9,201.9 L592.5,208.8 L597.5,215.0 L601.3,221.3"/>
<path d="M591.3,201.5 L596.3,201.9"/>
<path d="M603.1,190.0 L616.3,203.1"/>
<path d="M596.3,201.9 L616.3,204.4"/>
<path d="M603.8,186.9 L623.1,186.9"/>
<path d="M621.9,203.8 C621.0,203.9 618.9,203.8 616.3,204.4 C613.7,205.0 608.3,205.7 606.3,207.5 C604.3,209.3 605.0,212.5 604.4,215.0 C603.8,217.5 602.8,221.2 602.5,222.5"/>
<path d="M624.4,212.5 C622.2,213.1 614.1,215.1 611.3,216.3 C608.5,217.6 608.5,217.7 607.5,220.0 C606.5,222.3 606.0,225.8 605.6,230.0 C605.2,234.2 604.9,241.3 605.0,245.0 C605.1,248.7 606.1,249.2 606.0,252.0 C605.9,254.8 604.8,260.3 604.5,262.0"/>
<ellipse cx="615.3" cy="222.5" rx="3.8" ry="1.9" transform="rotate(-8 615.3 222.5)"/>
<path d="M610.6,231.3 L615.6,231.3 L613.8,242.5 L609.4,243.1Z"/>
<path d="M622.5,230.0 L618.1,245.0"/>
<path d="M597.5,221.3 C597.3,223.6 596.7,231.1 596.3,235.0 C595.9,238.9 596.0,242.5 595.0,245.0 C594.0,247.5 591.2,248.7 590.0,250.0 C588.8,251.3 587.5,251.6 587.6,252.8 C587.7,254.1 589.4,256.1 590.5,257.5 C591.6,258.9 593.4,260.4 594.0,261.0"/>
<path d="M601.3,222.5 C601.0,226.2 599.9,239.6 599.4,245.0 C598.9,250.4 598.6,253.3 598.5,255.0"/>
<circle cx="595.6" cy="254" r="0.8" fill="#222" stroke="none"/>
<path d="M414.1,313.2 L417.5,312.2 L424.3,312.8 L447.9,309.6 L448.3,305.0 L452.6,301.3 L458.5,303.4 L460.6,321.4 L454.5,322.8 L449.2,320.3 L448.9,314.0 L425.2,317.4 L416.6,320.4Z"/>
<path d="M452.6,301.3 L453.6,320.5"/>
<path d="M448.3,305.0 L453.0,306.0"/>
<circle cx="418.2" cy="316" r="0.9"/>
<path d="M460.6,309.5 L462.2,309.2 L462.4,313.4 L460.8,313.8"/>
<ellipse cx="413.8" cy="393.3" rx="17.6" ry="25.8" transform="rotate(11 413.8 393.3)"/>
<ellipse cx="411.6" cy="395.4" rx="21.2" ry="29.2" transform="rotate(11 411.6 395.4)"/>
<path d="M396.0,372.0 C395.2,374.7 391.9,382.0 391.0,388.0 C390.1,394.0 389.7,402.3 390.5,408.0 C391.3,413.7 393.8,418.9 396.0,422.0 C398.2,425.1 402.7,425.8 404.0,426.5"/>
<path d="M409.1,424.6 L409.1,445.9"/>
<circle cx="399.8" cy="378.2" r="0.7" fill="#222" stroke="none"/>
<circle cx="428.4" cy="370.8" r="0.7" fill="#222" stroke="none"/>
<circle cx="427.4" cy="410.2" r="0.7" fill="#222" stroke="none"/>
<circle cx="397.8" cy="417.6" r="0.7" fill="#222" stroke="none"/>
<path d="M372.7,317.6 L382.8,315.1 L382.8,342.6 L379.0,343.9 L372.7,337.6"/>
<path d="M371.0,330.0 C371.0,332.0 370.5,338.3 371.0,342.0 C371.5,345.7 371.5,349.6 374.0,352.0 C376.5,354.4 384.1,355.4 386.1,356.1"/>
<path d="M371.5,337.6 C371.8,338.8 372.4,342.9 373.0,345.0 C373.6,347.1 374.0,348.9 375.2,350.2 C376.4,351.4 378.3,351.9 380.0,352.5 C381.7,353.1 384.4,353.7 385.3,353.9"/>
<path d="M385.3,353.9 L385.3,343.9 L382.8,342.6"/>
<path d="M372.7,352.7 C372.8,353.9 372.8,357.9 373.0,360.0 C373.2,362.1 373.8,364.3 374.0,365.2"/>
<path d="M374.0,365.2 C375.0,365.3 378.1,366.0 380.0,366.0 C381.9,366.0 384.0,363.2 385.3,365.2 C386.6,367.1 387.2,373.9 387.8,377.7 C388.4,381.4 389.5,385.6 389.0,387.7 C388.5,389.8 386.4,389.4 385.0,390.0 C383.6,390.6 381.8,391.5 380.3,391.5 C378.8,391.5 377.1,390.6 376.0,390.0 C374.9,389.4 374.5,390.2 374.0,387.7 C373.5,385.2 373.3,377.1 373.2,375.0"/>
<path d="M387.5,383.0 C388.1,382.8 390.1,382.2 391.0,381.5 C391.9,380.8 392.7,379.0 393.0,378.5"/>
<path d="M376.5,377.5 L382.5,376.3"/>
<path d="M380.3,391.5 L380.3,404.5"/>
<path d="M376.5,405.8 L384.0,404.5 L384.0,419.6 L376.5,420.8Z"/>
<circle cx="378.4" cy="335.5" r="0.7" fill="#222" stroke="none"/>
<circle cx="380.8" cy="349.5" r="0.7" fill="#222" stroke="none"/>
<circle cx="378.0" cy="320.5" r="0.7" fill="#222" stroke="none"/>
<circle cx="372.3" cy="336.5" r="0.7" fill="#222" stroke="none"/>
<path d="M385.3,352.7 C385.4,352.5 382.8,352.0 386.1,351.7 C389.4,351.4 399.3,351.3 405.0,351.0 C410.7,350.7 415.8,350.4 420.2,350.1 C424.6,349.8 429.4,349.3 431.3,349.1"/>
<path d="M431.3,349.1 C431.7,349.3 432.8,349.8 433.5,350.5 C434.2,351.2 430.9,353.3 435.3,353.1 C439.7,352.9 452.5,350.7 460.0,349.5 C467.5,348.3 476.4,347.2 480.5,346.1 C484.6,345.0 483.8,343.6 484.5,343.1"/>
<path d="M484.5,343.1 C487.1,343.0 494.5,342.7 500.0,342.6 C505.5,342.5 513.8,342.3 517.6,342.7 C521.4,343.1 518.0,345.0 522.6,345.2 C527.2,345.4 539.8,344.7 545.2,343.9 C550.6,343.1 552.7,342.1 555.2,340.2 C557.7,338.3 558.3,337.7 560.2,332.7 C562.1,327.7 564.4,315.1 566.5,310.1 C568.6,305.1 569.2,305.1 572.7,302.6 C576.2,300.1 584.4,298.9 587.8,295.1 C591.1,291.3 591.5,284.2 592.8,280.0 C594.0,275.8 594.6,273.0 595.3,270.0 C596.0,267.0 596.7,263.3 597.0,262.0"/>
<path d="M435.3,355.1 C439.4,354.5 452.5,352.8 460.0,351.7 C467.5,350.6 476.3,349.3 480.5,348.4 C484.7,347.5 481.8,346.6 485.0,346.4 C488.2,346.1 494.6,346.7 500.0,346.9 C505.4,347.1 514.0,347.1 517.6,347.7 C521.2,348.2 516.4,350.0 521.4,350.2 C526.4,350.4 541.4,350.1 547.7,349.0 C554.0,347.9 556.3,346.2 559.0,343.9 C561.7,341.6 562.1,340.4 564.0,335.2 C565.9,330.0 568.1,317.4 570.2,312.6 C572.3,307.8 573.0,308.6 576.5,306.3 C580.0,304.0 588.1,302.8 591.5,298.8 C594.9,294.8 595.3,287.3 596.6,282.5 C597.9,277.7 598.5,273.4 599.1,270.0 C599.8,266.6 600.3,263.3 600.5,262.0"/>
<path d="M604.5,262.0 C604.2,263.3 603.8,265.5 603.0,270.0 C602.2,274.5 600.9,284.2 599.6,289.0 C598.3,293.8 597.7,295.7 595.3,298.8 C592.9,301.9 587.4,304.1 585.3,307.6 C583.2,311.2 582.0,316.8 582.8,320.1 C583.6,323.4 588.2,324.7 590.3,327.6 C592.4,330.5 595.3,333.9 595.3,337.7 C595.3,341.5 594.9,346.0 590.3,350.2 C585.7,354.4 576.9,358.1 567.7,362.7 C558.5,367.3 545.5,372.8 535.1,377.8 C524.7,382.8 514.3,389.9 505.1,392.8 C495.9,395.7 484.2,394.9 480.0,395.3"/>
<path d="M608.5,262.0 C608.1,263.7 607.0,267.3 606.0,272.0 C605.0,276.7 603.2,285.0 602.2,290.0 C601.2,295.0 600.8,297.0 600.3,302.0 C599.8,307.0 598.9,314.6 599.1,320.1 C599.3,325.6 601.8,329.8 601.6,335.2 C601.4,340.6 601.3,347.7 597.8,352.7 C594.2,357.7 589.5,360.2 580.3,365.2 C571.1,370.2 555.2,377.4 542.7,382.8 C530.2,388.2 515.2,394.9 505.1,397.8 C495.0,400.8 485.9,400.1 482.0,400.5"/>
<path d="M612.8,270.0 C612.0,276.3 609.0,295.1 607.8,307.6 C606.5,320.1 607.0,334.8 605.3,345.2 C603.6,355.6 600.7,362.8 597.8,370.3 C594.9,377.8 589.9,385.9 587.8,390.3 C585.7,394.8 585.7,395.9 585.3,397.0"/>
<ellipse cx="593.3" cy="315.1" rx="2" ry="5" transform="rotate(14 593.3 315.1)"/>
<circle cx="575.7" cy="316.9" r="0.8" fill="#222" stroke="none"/>
<path d="M567.7,351.5 C570.4,351.3 580.6,352.1 584.0,350.2 C587.4,348.3 587.6,343.3 587.8,340.2 C588.0,337.1 586.8,333.5 585.3,331.4 C583.8,329.3 580.9,328.0 579.0,327.6 C577.1,327.2 575.0,327.6 574.0,328.9 C573.0,330.2 572.9,334.1 572.7,335.2"/>
<path d="M579.0,323.9 C580.9,324.7 587.8,326.6 590.3,328.9 C592.8,331.2 593.8,334.1 594.0,337.7 C594.2,341.2 593.0,347.3 591.5,350.2 C590.0,353.1 586.3,354.4 585.3,355.2"/>
<path d="M574.0,337.7 L580.3,337.7"/>
<circle cx="577.7" cy="374" r="8.8"/>
<path d="M571.5,366.0 C571.1,367.5 569.0,372.2 569.0,375.0 C569.0,377.8 570.2,381.4 571.5,383.0 C572.8,384.6 576.1,384.2 577.0,384.5"/>
<ellipse cx="540.2" cy="365.2" rx="9" ry="6" transform="rotate(-32 540.2 365.2)"/>
<ellipse cx="545.5" cy="363.6" rx="7.5" ry="5" transform="rotate(-32 545.5 363.6)"/>
<path d="M551.0,362.0 C551.8,362.2 554.8,362.7 556.0,363.5 C557.2,364.3 557.7,366.4 558.0,367.0"/>
<rect x="-6.2" y="-2" width="12.4" height="4" rx="2" transform="translate(519.4,387.4) rotate(-16)"/>
<circle cx="506.3" cy="354.7" r="0.8" fill="#222" stroke="none"/>
<circle cx="443" cy="364.5" r="0.8" fill="#222" stroke="none"/>
<path d="M405.2,351.2 C405.7,352.7 407.9,357.1 408.2,360.1 C408.5,363.1 407.4,367.7 407.2,369.2"/>
<path d="M410.2,351.0 C410.9,352.9 413.7,359.4 414.2,362.1 C414.7,364.8 413.4,366.3 413.2,367.1"/>
<path d="M386.1,357.1 C387.8,357.5 393.0,358.9 396.0,359.6 C399.0,360.3 402.8,360.9 404.2,361.1"/>
<path d="M414.5,362.2 C415.8,362.2 418.8,362.5 422.0,362.4 C425.2,362.3 431.6,361.7 433.5,361.6"/>
<path d="M431.3,349.1 C431.8,350.6 433.1,354.9 434.0,358.0 C434.9,361.1 436.1,364.8 437.0,368.0 C437.9,371.2 439.1,375.9 439.5,377.5"/>
<path d="M438.0,384.0 C439.5,383.8 444.8,385.2 447.0,382.5 C449.2,379.8 449.8,371.8 451.5,368.0 C453.2,364.2 455.2,360.7 457.0,359.5 C458.8,358.3 460.3,359.4 462.0,361.0 C463.7,362.6 465.2,367.2 467.0,369.0 C468.8,370.8 471.0,372.7 473.0,372.0 C475.0,371.3 478.0,366.2 479.0,365.0"/>
<path d="M484.5,346.1 C484.1,348.1 483.4,353.7 482.0,358.0 C480.6,362.3 477.3,367.7 476.0,372.0 C474.7,376.3 473.8,381.2 474.0,384.0 C474.2,386.8 472.0,387.6 477.0,388.5 C482.0,389.4 498.8,389.8 504.0,389.5 C509.2,389.2 506.6,388.1 508.0,386.5 C509.4,384.9 512.2,382.6 512.5,380.0 C512.8,377.4 509.4,374.0 509.5,371.0 C509.6,368.0 511.6,365.9 513.0,362.0 C514.4,358.1 516.8,350.1 517.6,347.7"/>
<path d="M485.0,346.4 C484.1,349.3 480.9,358.1 479.5,364.0 C478.1,369.9 477.0,379.0 476.5,382.0"/>
<path d="M477.0,388.5 C480.8,389.4 494.2,393.4 500.0,394.0 C505.8,394.6 510.0,392.3 512.0,392.0"/>
<path d="M438.0,384.0 C438.3,385.3 436.3,390.5 440.0,392.0 C443.7,393.5 454.0,391.8 460.0,393.0 C466.0,394.2 472.3,398.2 476.0,399.5 C479.7,400.8 481.0,400.3 482.0,400.5"/>
<path d="M436.5,386.0 C436.4,388.0 435.6,394.3 435.6,398.0 C435.6,401.7 435.6,405.2 436.5,408.0 C437.4,410.8 439.9,413.9 441.0,415.0 C442.1,416.1 442.9,414.4 443.3,414.3"/>
<path d="M436.5,408.0 C437.2,408.3 439.2,408.3 440.5,410.0 C441.8,411.7 443.7,417.0 444.3,418.4"/>
<path d="M428.6,425.0 C429.2,424.6 431.3,424.2 432.5,422.5 C433.7,420.8 435.4,416.2 436.0,415.0"/>
<path d="M440.2,399.5 L441.2,405.0"/>
<path d="M445.2,400.5 L446.0,408.0"/>
<path d="M429.0,419.0 C429.5,420.5 430.5,426.2 432.0,428.0 C433.5,429.8 435.9,431.6 438.0,430.0 C440.1,428.4 443.2,420.3 444.3,418.4"/>
<path d="M372.7,317.6 C372.4,319.7 371.5,325.4 371.2,330.0 C370.9,334.6 370.8,339.7 371.0,345.0 C371.2,350.3 372.0,356.5 372.4,362.0 C372.8,367.5 372.9,373.7 373.2,378.0 C373.5,382.3 373.9,386.3 374.0,388.0"/>
</g>
</svg>
</body></html>
